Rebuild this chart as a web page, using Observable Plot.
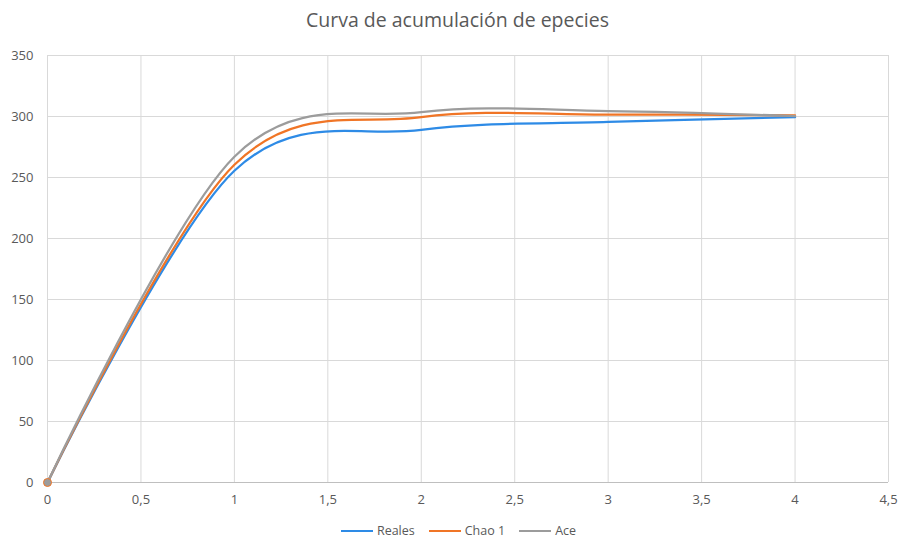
<!DOCTYPE html>
<html>
<head>
<meta charset="utf-8">
<script src="https://cdn.jsdelivr.net/npm/d3@7"></script>
<script src="https://cdn.jsdelivr.net/npm/@observablehq/plot@0.6"></script>
<style>
  html, body { margin: 0; padding: 0; background: #fff; overflow: hidden; }
  body { width: 899px; height: 538px; font-family: "Open Sans", "Noto Sans", sans-serif; color: #595959; }
  #title { height: 40px; line-height: 40px; text-align: center; font-size: 19.5px; padding-left: 16px; }
  #legend { display: flex; justify-content: center; align-items: center; height: 16px; font-size: 12.5px; line-height: 16px; gap: 14px; padding-left: 18px; padding-top: 1px; }
  .item { display: flex; align-items: center; gap: 4px; }
  .swatch { width: 32px; height: 2.5px; }
</style>
</head>
<body>
<div id="title">Curva de acumulación de epecies</div>
<div id="chart"></div>
<div id="legend"></div>
<script>
const xValues = [0, 1, 2, 3, 4];
const reales = [0, 255.5, 289, 295.5, 299.5];
const chao1 = [0, 260.5, 299.5, 301.5, 301];
const ace = [0, 267, 303.5, 304.5, 300.3];
const seriesNames = ["Reales", "Chao 1", "Ace"];
const seriesColors = ["#2e8be6", "#f07526", "#9c9c9c"];
const xTicks = [0, 0.5, 1, 1.5, 2, 2.5, 3, 3.5, 4, 4.5];
const yTicks = [0, 50, 100, 150, 200, 250, 300, 350];

const allSeries = [reales, chao1, ace];
const rows = [];
allSeries.forEach((vals, i) => {
  xValues.forEach((x, j) => rows.push({x, y: vals[j], s: seriesNames[i]}));
});

const fmt = d => String(d).replace(".", ",");
const smooth = d3.curveCardinal.tension(0);

const chart = Plot.plot({
  width: 899,
  height: 482,
  marginLeft: 47,
  marginRight: 11,
  marginTop: 15,
  marginBottom: 40,
  style: { fontFamily: "'Open Sans', 'Noto Sans', sans-serif", fontSize: "13px", color: "#595959", background: "#fff" },
  x: { domain: [0, 4.5], ticks: xTicks, tickFormat: fmt, tickSize: 0, tickPadding: 12, label: null },
  y: { domain: [0, 350], ticks: yTicks, tickSize: 0, tickPadding: 14, label: null },
  color: { domain: seriesNames, range: seriesColors },
  marks: [
    Plot.gridX(xTicks, { stroke: "#d9d9d9", strokeOpacity: 1, strokeWidth: 1 }),
    Plot.gridY(yTicks, { stroke: "#d9d9d9", strokeOpacity: 1, strokeWidth: 1 }),
    Plot.ruleY([0], { stroke: "#bfbfbf", strokeWidth: 1 }),
    Plot.axisX({ ticks: xTicks, tickFormat: fmt, tickSize: 0, tickPadding: 12, fill: "#595959" }),
    Plot.axisY({ ticks: yTicks, tickSize: 0, tickPadding: 14, fill: "#595959" }),
    ...seriesNames.map((name, i) => Plot.line(rows.filter(r => r.s === name), {
      x: "x", y: "y", stroke: seriesColors[i], strokeWidth: 2.25, curve: smooth
    })),
    Plot.dot(rows.filter(r => r.x === 0 && r.s === "Ace"), { x: "x", y: "y", r: 4, fill: "#9c9c9c", stroke: "#f07526", strokeWidth: 1 })
  ]
});
document.getElementById("chart").appendChild(chart);

const legend = document.getElementById("legend");
seriesNames.forEach((name, i) => {
  const item = document.createElement("div");
  item.className = "item";
  const sw = document.createElement("div");
  sw.className = "swatch";
  sw.style.background = seriesColors[i];
  const lab = document.createElement("span");
  lab.textContent = name;
  item.appendChild(sw);
  item.appendChild(lab);
  legend.appendChild(item);
});
</script>
</body>
</html>
